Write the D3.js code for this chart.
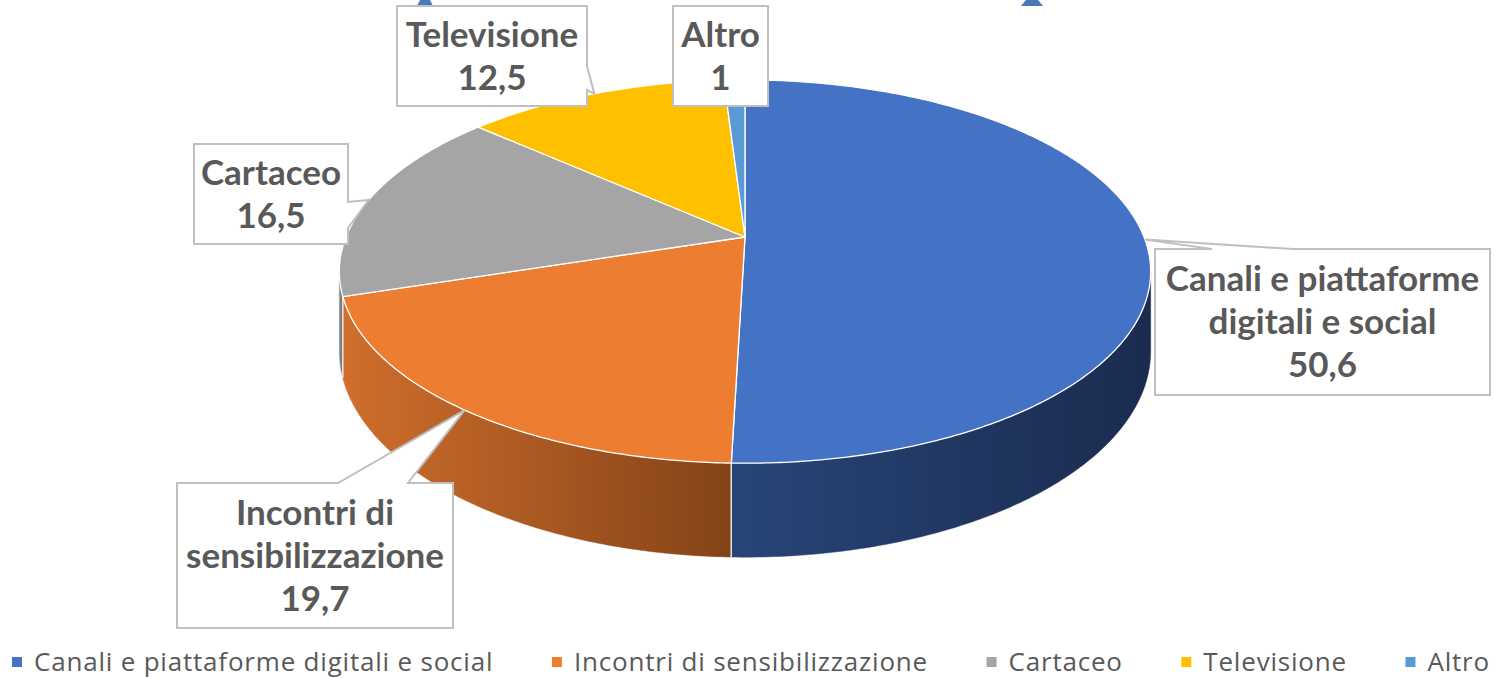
<!DOCTYPE html>
<html>
<head>
<meta charset="utf-8">
<script src="https://cdn.jsdelivr.net/npm/d3@7"></script>
<style>
  html, body { margin: 0; padding: 0; background: #fff; }
  svg { display: block; }
</style>
</head>
<body>
<svg id="chart" width="1495" height="678"></svg>
<script>
// dati
const categories = ['Canali e piattaforme digitali e social', 'Incontri di sensibilizzazione', 'Cartaceo', 'Televisione', 'Altro'];
const values = [50.6, 19.7, 16.5, 12.5, 1];
const valueLabels = ['50,6', '19,7', '16,5', '12,5', '1'];
const labelLines = [['Canali e piattaforme', 'digitali e social'], ['Incontri di', 'sensibilizzazione'], ['Cartaceo'], ['Televisione'], ['Altro']];

const topColors = ['#4472c4', '#ed7d31', '#a5a5a5', '#ffc000', '#5b9bd5'];
const wallColors = [['#284579', '#1a2b4e'], ['#d06e2d', '#834317'], ['#8e8e8e', '#6f6f6f'], ['#d9a400', '#b58800'], ['#4d85b8', '#3a6a95']];

// layout dei box etichetta (box, lato del puntatore, base del puntatore)
const callouts = [
  { x: 1155, y: 249, w: 335, h: 146, side: 'top', b0: 1212, b1: 1293 },
  { x: 177, y: 483, w: 276, h: 145, side: 'top', b0: 338, b1: 408 },
  { x: 194, y: 144, w: 154, h: 100, side: 'right', b0: 202, b1: 228 },
  { x: 397, y: 6, w: 190, h: 100, side: 'right', b0: 66, b1: 90 },
  { x: 673, y: 6, w: 95, h: 100, side: null }
];

const svg = d3.select('#chart');
const defs = svg.append('defs');

// geometria della torta 3D (prospettiva semplice)
const cx = 745;
const cy = 237;
const R = 399;
const ky = 0.4647;
const dist = 5.545;
const thick = 77;

function project(theta, r, drop) {
  const s = dist / (dist + r * Math.cos(theta));
  return [cx + R * r * Math.sin(theta) * s, cy - ky * R * r * Math.cos(theta) * s + drop * s];
}

function arcPoints(a0, a1, drop) {
  const n = Math.max(2, Math.ceil((a1 - a0) / 0.01));
  return d3.range(n + 1).map(i => project(a0 + (a1 - a0) * i / n, 1, drop));
}

const pie = d3.pie().sort(null).value(d => d)(values);
const line = d3.line();

// pareti laterali (solo parte frontale visibile)
const sil0 = Math.acos(-1 / dist);
const sil1 = 2 * Math.PI - sil0;

wallColors.forEach((c, i) => {
  const g = defs.append('linearGradient').attr('id', 'wall' + i)
    .attr('x1', 0).attr('x2', 1).attr('y1', 0).attr('y2', 0);
  g.append('stop').attr('offset', '0%').attr('stop-color', c[0]);
  g.append('stop').attr('offset', '100%').attr('stop-color', c[1]);
});

const walls = svg.append('g').attr('class', 'walls');
pie.forEach((p, i) => {
  const a0 = Math.max(p.startAngle, sil0);
  const a1 = Math.min(p.endAngle, sil1);
  if (a1 <= a0) return;
  const topPts = arcPoints(a0, a1, 0);
  const botPts = arcPoints(a0, a1, thick).reverse();
  walls.append('path')
    .attr('d', line(topPts.concat(botPts)) + 'Z')
    .attr('fill', `url(#wall${i})`)
    .attr('stroke', `url(#wall${i})`)
    .attr('stroke-width', 0.5);
});
// separatori bianchi sulle pareti
pie.forEach((p) => {
  const a = p.endAngle;
  if (a > sil0 && a < sil1) {
    walls.append('path')
      .attr('d', line([project(a, 1, 0), project(a, 1, thick)]))
      .attr('stroke', '#fff').attr('stroke-width', 1.5).attr('opacity', 0.85);
  }
});

// superficie superiore
const tops = svg.append('g').attr('class', 'tops');
pie.forEach((p, i) => {
  const pts = [[cx, cy]].concat(arcPoints(p.startAngle, p.endAngle, 0));
  tops.append('path')
    .attr('d', line(pts) + 'Z')
    .attr('fill', topColors[i])
    .attr('stroke', '#fff')
    .attr('stroke-width', 1.3)
    .attr('stroke-linejoin', 'round');
});

// frammenti blu in alto (forme tagliate)
svg.append('path').attr('d', 'M417,6 L420,0 L430,0 L433,6 Z').attr('fill', '#4a78b9');
svg.append('path').attr('d', 'M1021,6 L1026,0 L1038,0 L1043,6 Z').attr('fill', '#4a78b9');

// etichette con richiamo
const labels = svg.append('g').attr('class', 'labels');
pie.forEach((p, i) => {
  const c = callouts[i];
  const mid = (p.startAngle + p.endAngle) / 2;
  const tip = project(mid, 1, 0);
  const x0 = c.x; const y0 = c.y; const x1 = c.x + c.w; const y1 = c.y + c.h;
  let pts;
  if (c.side === 'top') {
    pts = [[x0, y0], [c.b0, y0], tip, [c.b1, y0], [x1, y0], [x1, y1], [x0, y1]];
  } else if (c.side === 'right') {
    pts = [[x0, y0], [x1, y0], [x1, c.b0], tip, [x1, c.b1], [x1, y1], [x0, y1]];
  } else {
    pts = [[x0, y0], [x1, y0], [x1, y1], [x0, y1]];
  }
  labels.append('path')
    .attr('d', line(pts) + 'Z')
    .attr('fill', '#fff')
    .attr('stroke', '#bfbfbf')
    .attr('stroke-width', 2)
    .attr('stroke-linejoin', 'miter');
  const lines = labelLines[i].concat([valueLabels[i]]);
  const lh = 43;
  const startY = y0 + c.h / 2 - (lines.length - 1) * lh / 2;
  const t = labels.append('text')
    .attr('text-anchor', 'middle')
    .attr('font-family', 'Lato, "Open Sans", sans-serif')
    .attr('font-weight', 'bold')
    .attr('font-size', 35)
    .attr('fill', '#595959');
  lines.forEach((l, j) => {
    t.append('tspan')
      .attr('x', x0 + c.w / 2)
      .attr('y', startY + j * lh)
      .attr('dy', '0.35em')
      .text(l);
  });
});

// legenda
const legend = svg.append('g').attr('class', 'legend');
const items = legend.selectAll('g').data(categories).enter().append('g');
items.append('rect').attr('width', 10).attr('height', 10).attr('y', 657)
  .attr('fill', (d, i) => topColors[i]);
items.append('text')
  .attr('x', 22).attr('y', 662).attr('dy', '0.35em')
  .attr('font-family', '"Open Sans", sans-serif')
  .attr('font-size', 26)
  .attr('letter-spacing', 0.8)
  .attr('fill', '#595959')
  .text(d => d);
const widths = [];
items.select('text').each(function () { widths.push(22 + this.getComputedTextLength()); });
const legLeft = 12;
const legRight = 1490;
const gap = (legRight - legLeft - d3.sum(widths)) / (widths.length - 1);
let xpos = legLeft;
items.attr('transform', (d, i) => {
  const tx = xpos;
  xpos += widths[i] + gap;
  return `translate(${tx},0)`;
});
</script>
</body>
</html>
